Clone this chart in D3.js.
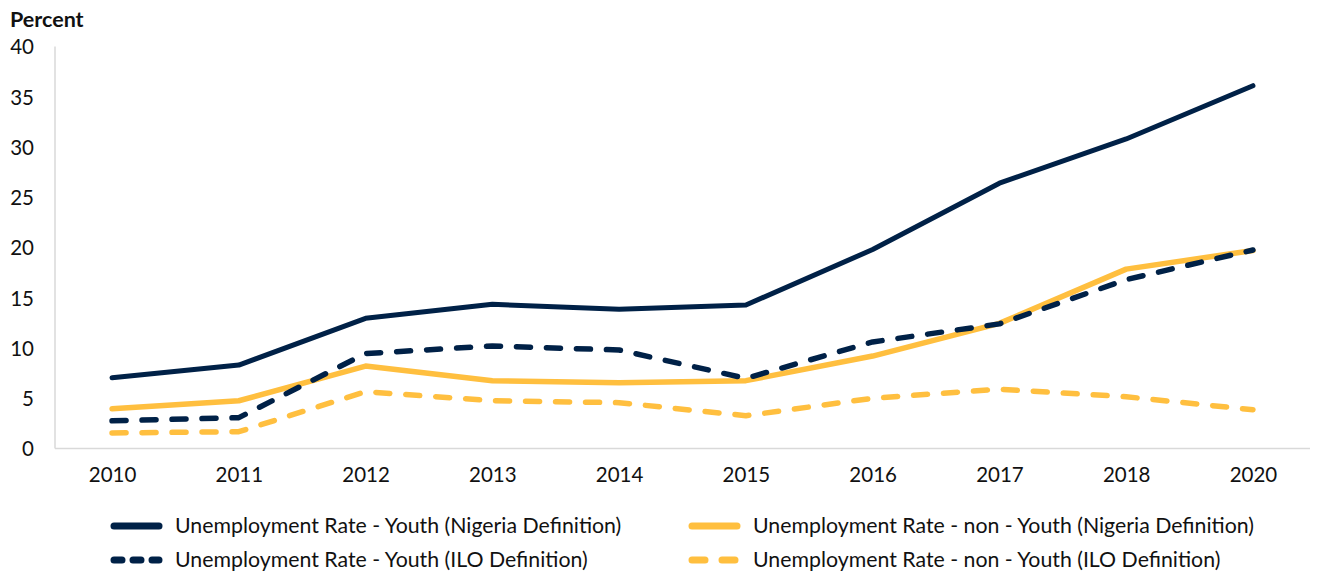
<!DOCTYPE html>
<html>
<head>
<meta charset="utf-8">
<script src="https://cdn.jsdelivr.net/npm/d3@7"></script>
<style>
  body { margin: 0; background: #fff; }
  svg text { font-family: Lato, "Open Sans", sans-serif; fill: #111; }
</style>
</head>
<body>
<div id="app"></div>
<script>
// data
const years = ["2010", "2011", "2012", "2013", "2014", "2015", "2016", "2017", "2018", "2020"]
const youthNigeria = [7.05, 8.3, 12.95, 14.35, 13.85, 14.28, 19.8, 26.4, 30.8, 36.1]
const nonYouthNigeria = [3.95, 4.75, 8.2, 6.75, 6.55, 6.75, 9.2, 12.45, 17.85, 19.7]
const youthILO = [2.75, 3.07, 9.45, 10.2, 9.8, 6.98, 10.6, 12.4, 16.8, 19.75]
const nonYouthILO = [1.55, 1.67, 5.65, 4.76, 4.56, 3.26, 5.0, 5.9, 5.15, 3.85]
const yTicks = [0, 5, 10, 15, 20, 25, 30, 35, 40]

const navy = "#002147"
const gold = "#FFBF3F"

const series = [
  { name: "Unemployment Rate - Youth (Nigeria Definition)", values: youthNigeria, color: navy, dash: null, width: 5, key: null },
  { name: "Unemployment Rate - non - Youth (Nigeria Definition)", values: nonYouthNigeria, color: gold, dash: null, width: 5.5, key: null },
  { name: "Unemployment Rate - Youth (ILO Definition)", values: youthILO, color: navy, dash: "14,16", width: 5.5, key: "8,11" },
  { name: "Unemployment Rate - non - Youth (ILO Definition)", values: nonYouthILO, color: gold, dash: "14,16", width: 5.5, key: "13,17" }
]

const width = 1317
const height = 571
const plotLeft = 55, plotRight = 1310, plotTop = 46.5, plotBottom = 448.5

const svg = d3.select('#app')
  .append('svg')
  .attr('width', width)
  .attr('height', height)

const x = d3.scalePoint()
  .domain(years)
  .range([plotLeft, plotRight])
  .padding(0.45)

const y = d3.scaleLinear()
  .domain([0, 40])
  .range([plotBottom, plotTop])

// axes
svg.append('g')
  .attr('transform', `translate(0,${plotBottom})`)
  .call(d3.axisBottom(x).tickSize(0).tickPadding(19))
  .call(g => g.select('.domain').attr('stroke', '#d9d9d9').attr('stroke-width', 1.5)
    .attr('d', `M${plotLeft},0H${plotRight}`))
  .call(g => g.selectAll('text').style('font-size', '20.5px').attr('fill', '#111'))

svg.append('g')
  .attr('transform', `translate(${plotLeft},0)`)
  .call(d3.axisLeft(y).tickValues(yTicks).tickSize(0).tickPadding(21))
  .call(g => g.select('.domain').attr('stroke', '#d9d9d9').attr('stroke-width', 1.5)
    .attr('d', `M0,${plotBottom}V${plotTop}`))
  .call(g => g.selectAll('text').style('font-size', '20.5px').attr('fill', '#111').attr('dy', '0.36em'))

svg.append('text')
  .attr('x', 10)
  .attr('y', 27)
  .style('font-size', '21.5px')
  .style('font-weight', 'bold')
  .text('Percent')

// lines
const line = d3.line()
  .x((d, i) => x(years[i]))
  .y(d => y(d))

svg.append('g')
  .selectAll('path')
  .data(series)
  .enter()
  .append('path')
  .attr('d', d => line(d.values))
  .attr('fill', 'none')
  .attr('stroke', d => d.color)
  .attr('stroke-width', d => d.width)
  .attr('stroke-dasharray', d => d.dash)
  .attr('stroke-linecap', 'round')
  .attr('stroke-linejoin', 'round')

// legend
const legendPos = [[114, 526], [692, 526], [114, 560], [692, 560]]
const legend = svg.append('g')
  .selectAll('g')
  .data(series)
  .enter()
  .append('g')
  .attr('transform', (d, i) => `translate(${legendPos[i][0]},${legendPos[i][1]})`)

legend.append('line')
  .attr('x1', 0)
  .attr('x2', 45)
  .attr('y1', 0)
  .attr('y2', 0)
  .attr('stroke', d => d.color)
  .attr('stroke-width', 7)
  .attr('stroke-dasharray', d => d.key)
  .attr('stroke-linecap', 'round')

legend.append('text')
  .attr('x', 61)
  .attr('y', 0)
  .attr('dy', '0.35em')
  .style('font-size', '21.3px')
  .text(d => d.name)
</script>
</body>
</html>
